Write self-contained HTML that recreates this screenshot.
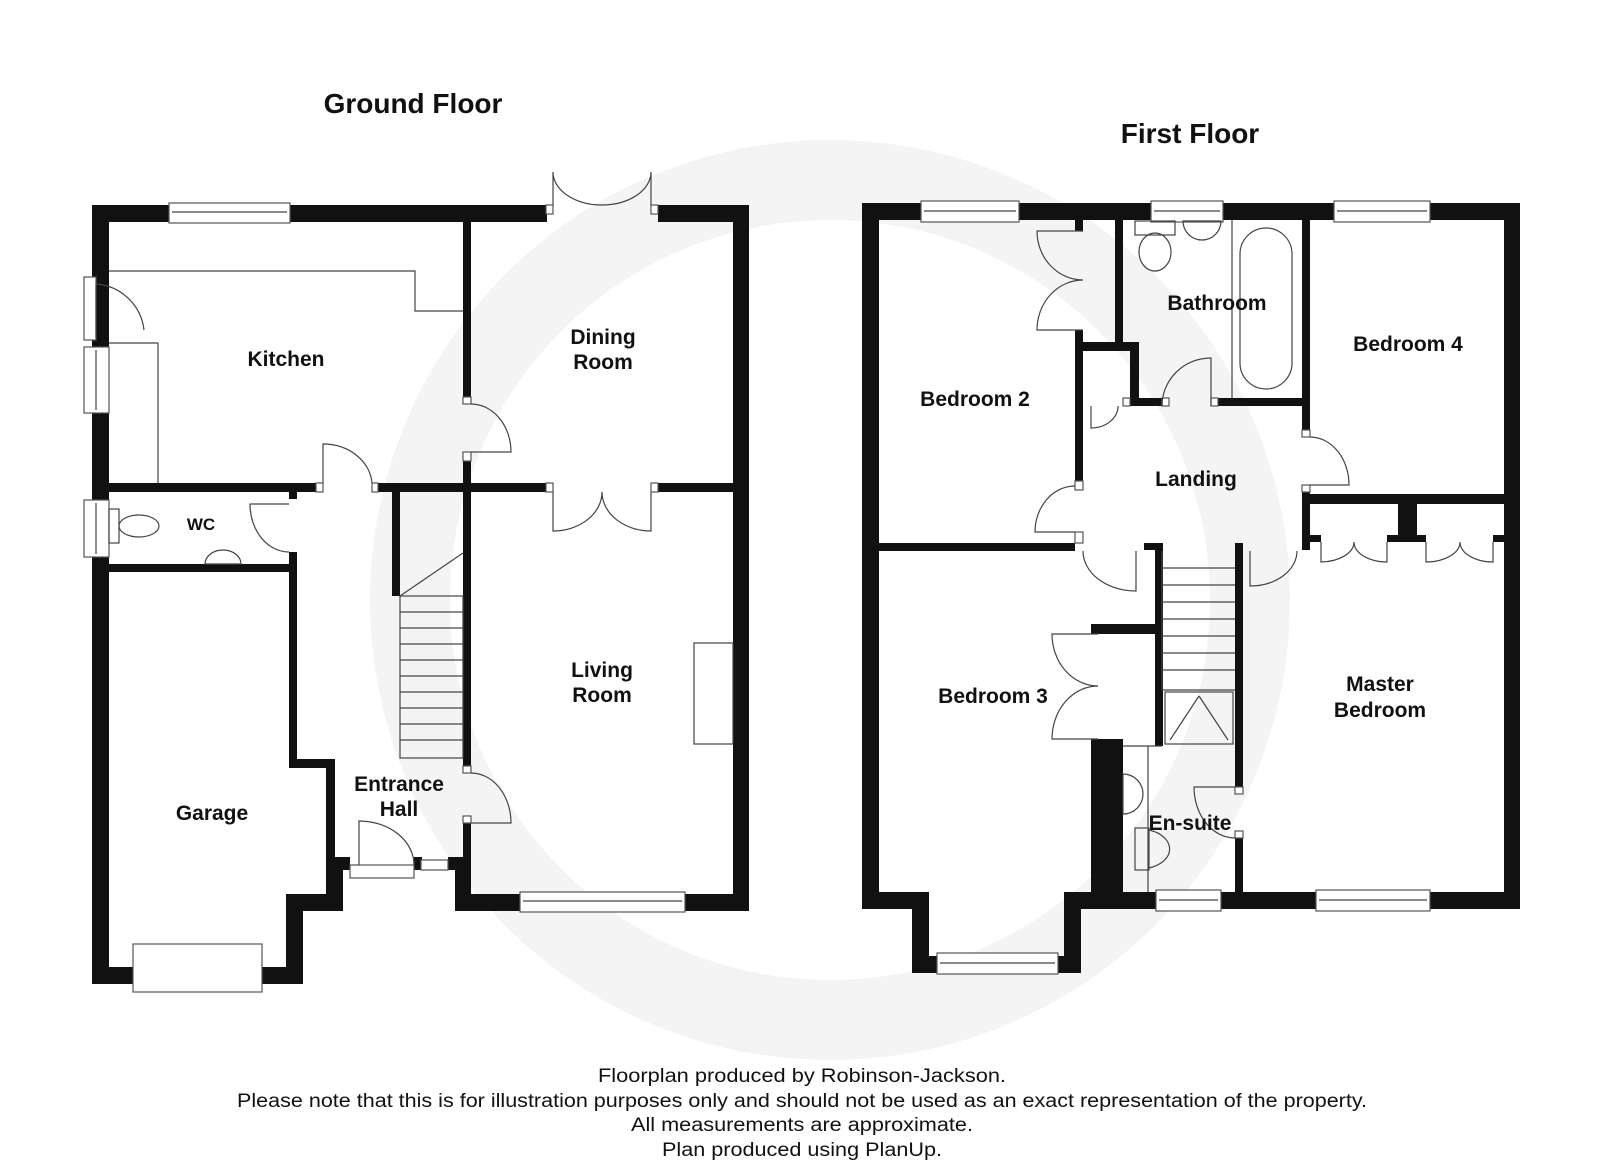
<!DOCTYPE html>
<html><head><meta charset="utf-8"><style>
html,body{margin:0;padding:0;background:#fff}
svg{display:block}
.t{font-family:"Liberation Sans",Arial,sans-serif;font-weight:bold;font-size:21px;fill:#111;text-anchor:middle}
.h{font-family:"Liberation Sans",Arial,sans-serif;font-weight:bold;font-size:28px;fill:#111;text-anchor:middle}
.f{font-family:"Liberation Sans",Arial,sans-serif;font-size:19px;fill:#111;text-anchor:middle}
.l{fill:none;stroke:#444;stroke-width:1.2}
.w{fill:#fff;stroke:#555;stroke-width:1.2}
</style></head><body>
<svg width="1600" height="1163" viewBox="0 0 1600 1163" xmlns="http://www.w3.org/2000/svg">
<circle cx="830" cy="600" r="420" fill="none" stroke="#f4f4f4" stroke-width="80"/>

<text class="h" x="413" y="113">Ground Floor</text>
<text class="h" x="1190" y="143">First Floor</text>

<g fill="#111">
<rect x="92" y="205" width="455" height="17"/>
<rect x="658" y="205" width="91" height="17"/>
<rect x="733" y="205" width="16" height="706"/>
<rect x="455" y="894" width="294" height="17"/>
<rect x="455" y="857" width="16" height="54"/>
<rect x="92" y="205" width="17" height="779"/>
<rect x="109" y="483" width="207" height="9"/>
<rect x="109" y="564" width="187" height="8"/>
<rect x="289" y="492" width="8" height="7"/>
<rect x="289" y="552" width="8" height="20"/>
<rect x="289" y="564" width="8" height="196"/>
<rect x="289" y="759" width="45" height="9"/>
<rect x="326" y="759" width="9" height="138"/>
<rect x="286" y="894" width="57" height="17"/>
<rect x="286" y="894" width="17" height="90"/>
<rect x="92" y="967" width="211" height="17"/>
<rect x="334" y="857" width="16" height="13"/>
<rect x="334" y="857" width="9" height="54"/>
<rect x="414" y="857" width="8" height="13"/>
<rect x="448" y="857" width="8" height="13"/>
<rect x="463" y="222" width="8" height="175"/>
<rect x="463" y="461" width="8" height="305"/>
<rect x="463" y="823" width="8" height="40"/>
<rect x="378" y="483" width="168" height="9"/>
<rect x="658" y="483" width="75" height="9"/>
<rect x="392" y="492" width="8" height="104"/>
</g>
<rect class="w" x="169" y="203" width="121" height="20"/><line class="l" x1="172" y1="212" x2="287" y2="212"/>
<rect class="w" x="520" y="892" width="165" height="20"/><line class="l" x1="523" y1="901" x2="682" y2="901"/>
<rect class="w" x="84" y="277" width="12" height="63"/>
<rect class="w" x="84" y="347" width="25" height="66"/><line class="l" x1="96" y1="350" x2="96" y2="410"/>
<rect class="w" x="84" y="500" width="25" height="57"/><line class="l" x1="96" y1="503" x2="96" y2="554"/>
<rect class="w" x="133" y="944" width="129" height="48"/>
<rect class="w" x="350" y="865" width="64" height="13"/>
<rect class="w" x="421" y="860" width="27" height="10"/>
<g class="w">
<rect x="316" y="483" width="7" height="9"/><rect x="372" y="483" width="6" height="9"/>
<rect x="546" y="483" width="7" height="9"/><rect x="651" y="483" width="7" height="9"/>
<rect x="546" y="205" width="7" height="9"/><rect x="651" y="205" width="7" height="9"/>
<rect x="463" y="397" width="8" height="7"/><rect x="463" y="452" width="8" height="9"/>
<rect x="463" y="766" width="8" height="7"/><rect x="463" y="816" width="8" height="7"/>
</g>
<polyline class="l" points="109,271 415,271 415,311 463,311"/>
<polyline class="l" points="109,343 158,343 158,483"/>
<g class="l">
<rect x="400" y="596" width="63" height="162"/>
<line x1="400" y1="596" x2="463" y2="553"/>
<line x1="400" y1="612" x2="463" y2="612"/><line x1="400" y1="628" x2="463" y2="628"/>
<line x1="400" y1="644" x2="463" y2="644"/><line x1="400" y1="660" x2="463" y2="660"/>
<line x1="400" y1="676" x2="463" y2="676"/><line x1="400" y1="692" x2="463" y2="692"/>
<line x1="400" y1="708" x2="463" y2="708"/><line x1="400" y1="724" x2="463" y2="724"/>
<line x1="400" y1="740" x2="463" y2="740"/>
<rect x="694" y="643" width="39" height="101"/>
</g>
<g class="l">
<path d="M96,338 L96,284 A52,52 0 0 1 144,330"/>
<path d="M323,483 L323,444 A49,42 0 0 1 372,483"/>
<path d="M471,452 L511,452 A40,48 0 0 0 471,404"/>
<path d="M553,205 L553,172 A49,33 0 0 0 602,205 M651,205 L651,172 A49,33 0 0 1 602,205"/>
<path d="M553,492 L553,531 A49,39 0 0 0 602,492 M651,492 L651,531 A49,39 0 0 1 602,492"/>
<path d="M289,504 L250,504 A39,48 0 0 0 289,552"/>
<path d="M471,823 L511,823 A40,50 0 0 0 471,773"/>
<path d="M359,865 L359,821 A55,44 0 0 1 414,865"/>
<rect x="109" y="509" width="10" height="34"/>
<ellipse cx="139" cy="526" rx="20" ry="11"/>
<path d="M205,564 A18,14 0 0 1 241,564 Z"/>
</g>

<g fill="#111">
<rect x="862" y="203" width="658" height="17"/>
<rect x="862" y="203" width="17" height="706"/>
<rect x="1504" y="203" width="16" height="706"/>
<rect x="862" y="892" width="51" height="17"/>
<rect x="912" y="892" width="17" height="81"/>
<rect x="912" y="956" width="169" height="17"/>
<rect x="1064" y="892" width="17" height="81"/>
<rect x="1064" y="892" width="456" height="17"/>
<rect x="1115" y="220" width="8" height="123"/>
<rect x="1081" y="342" width="57" height="9"/>
<rect x="1130" y="342" width="9" height="63"/>
<rect x="1130" y="398" width="32" height="8"/>
<rect x="1218" y="398" width="84" height="8"/>
<rect x="1075" y="220" width="8" height="11"/>
<rect x="1075" y="330" width="8" height="151"/>
<rect x="1302" y="220" width="8" height="210"/>
<rect x="1302" y="492" width="8" height="58"/>
<rect x="1302" y="494" width="218" height="10"/>
<rect x="1398" y="504" width="19" height="38"/>
<rect x="1310" y="535" width="11" height="7"/>
<rect x="1387" y="535" width="11" height="7"/>
<rect x="1417" y="535" width="9" height="7"/>
<rect x="1493" y="535" width="11" height="7"/>
<rect x="879" y="543" width="196" height="8"/>
<rect x="1144" y="543" width="18" height="7"/>
<rect x="1155" y="543" width="8" height="203"/>
<rect x="1091" y="624" width="71" height="10"/>
<rect x="1091" y="739" width="32" height="153"/>
<rect x="1235" y="543" width="8" height="244"/>
<rect x="1235" y="838" width="8" height="54"/>
</g>
<g>
<rect class="w" x="921" y="201" width="98" height="21"/><line class="l" x1="924" y1="211" x2="1016" y2="211"/>
<rect class="w" x="1151" y="201" width="72" height="21"/><line class="l" x1="1154" y1="211" x2="1220" y2="211"/>
<rect class="w" x="1334" y="201" width="96" height="21"/><line class="l" x1="1337" y1="211" x2="1427" y2="211"/>
<rect class="w" x="937" y="953" width="121" height="21"/><line class="l" x1="940" y1="963" x2="1055" y2="963"/>
<rect class="w" x="1156" y="890" width="65" height="21"/><line class="l" x1="1159" y1="900" x2="1218" y2="900"/>
<rect class="w" x="1316" y="890" width="114" height="21"/><line class="l" x1="1319" y1="900" x2="1427" y2="900"/>
</g>
<g class="w">
<rect x="1075" y="481" width="8" height="9"/><rect x="1075" y="532" width="8" height="11"/>
<rect x="1123" y="398" width="7" height="8"/><rect x="1162" y="398" width="7" height="8"/><rect x="1211" y="398" width="7" height="8"/>
<rect x="1302" y="430" width="8" height="7"/><rect x="1302" y="485" width="8" height="7"/>
<rect x="1235" y="787" width="8" height="7"/><rect x="1235" y="831" width="8" height="7"/>
</g>
<g class="l">
<rect x="1135" y="221" width="40" height="14"/>
<ellipse cx="1155" cy="252" rx="16" ry="19"/>
<path d="M1183,221 L1221,221 A19,19 0 0 1 1183,221 Z"/>
<line x1="1232" y1="220" x2="1232" y2="398"/>
<rect x="1240" y="228" width="52" height="161" rx="26"/>
<rect x="1165" y="692" width="68" height="52"/>
<line x1="1199" y1="696" x2="1170" y2="740"/><line x1="1199" y1="696" x2="1228" y2="740"/>
<line x1="1123" y1="746" x2="1162" y2="746"/>
<line x1="1162" y1="551" x2="1162" y2="690"/>
<line x1="1162" y1="568" x2="1235" y2="568"/><line x1="1162" y1="585" x2="1235" y2="585"/>
<line x1="1162" y1="602" x2="1235" y2="602"/><line x1="1162" y1="619" x2="1235" y2="619"/>
<line x1="1162" y1="636" x2="1235" y2="636"/><line x1="1162" y1="653" x2="1235" y2="653"/>
<line x1="1162" y1="670" x2="1235" y2="670"/><line x1="1162" y1="690" x2="1235" y2="690"/>
<path d="M1123,774 A20,20 0 0 1 1123,814 Z"/>
<rect x="1135" y="828" width="14" height="42"/>
<path d="M1149,830 A30,20 0 0 1 1149,868"/>
<line x1="1148" y1="746" x2="1148" y2="892"/>
<path d="M1083,231 L1037,231 A46,49 0 0 0 1083,280 M1083,330 L1037,330 A46,50 0 0 1 1083,280"/>
<path d="M1075,532 L1035,532 A40,46 0 0 1 1075,486"/>
<path d="M1083,551 A53,40 0 0 0 1136,591 L1136,551"/>
<path d="M1211,406 L1211,358 A49,48 0 0 0 1162,406"/>
<path d="M1091,406 L1091,428 A27,22 0 0 0 1118,406"/>
<path d="M1250,551 L1250,586 A47,35 0 0 0 1297,551"/>
<path d="M1310,437 A39,48 0 0 1 1349,485 L1310,485"/>
<path d="M1235,787 L1194,787 A41,51 0 0 0 1235,838"/>
<path d="M1098,634 L1052,634 A46,52 0 0 0 1098,686 M1098,739 L1052,739 A46,53 0 0 1 1098,686"/>
<path d="M1321,542 L1321,562 A34,20 0 0 0 1354,542 M1387,542 L1387,562 A33,20 0 0 1 1354,542"/>
<path d="M1426,542 L1426,562 A34,20 0 0 0 1460,542 M1493,542 L1493,562 A33,20 0 0 1 1460,542"/>
</g>

<text class="t" x="286" y="366">Kitchen</text>
<text class="t" x="603" y="344">Dining</text>
<text class="t" x="603" y="369">Room</text>
<text class="t" x="201" y="530" style="font-size:17px">WC</text>
<text class="t" x="602" y="677">Living</text>
<text class="t" x="602" y="702">Room</text>
<text class="t" x="399" y="791">Entrance</text>
<text class="t" x="399" y="816">Hall</text>
<text class="t" x="212" y="820">Garage</text>
<text class="t" x="975" y="406">Bedroom 2</text>
<text class="t" x="1217" y="310">Bathroom</text>
<text class="t" x="1408" y="351">Bedroom 4</text>
<text class="t" x="1196" y="486">Landing</text>
<text class="t" x="993" y="703">Bedroom 3</text>
<text class="t" x="1380" y="691">Master</text>
<text class="t" x="1380" y="717">Bedroom</text>
<text class="t" x="1190" y="830">En-suite</text>

<text class="f" x="802" y="1082" textLength="408" lengthAdjust="spacingAndGlyphs">Floorplan produced by Robinson-Jackson.</text>
<text class="f" x="802" y="1107" textLength="1130" lengthAdjust="spacingAndGlyphs">Please note that this is for illustration purposes only and should not be used as an exact representation of the property.</text>
<text class="f" x="802" y="1131" textLength="342" lengthAdjust="spacingAndGlyphs">All measurements are approximate.</text>
<text class="f" x="802" y="1156" textLength="280" lengthAdjust="spacingAndGlyphs">Plan produced using PlanUp.</text>
</svg>
</body></html>
